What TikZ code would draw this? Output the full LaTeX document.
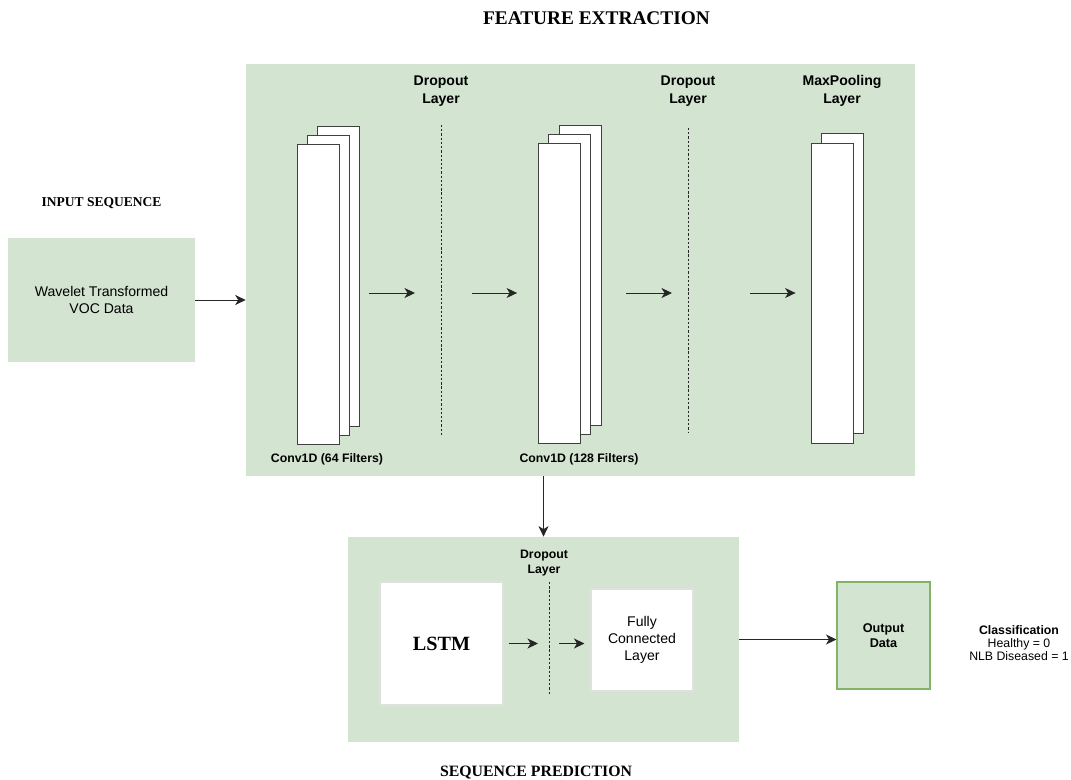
\documentclass[tikz,border=0pt]{standalone}
\usepackage{fontspec}
\setmainfont{Liberation Serif}
\setsansfont{Liberation Sans}
\usetikzlibrary{arrows.meta}
\definecolor{panelgreen}{HTML}{D3E4D1}
\definecolor{edgegreen}{HTML}{82B366}

\begin{document}
\begin{tikzpicture}[x=0.02cm, y=-0.02cm,
  panel/.style={fill=panelgreen, draw=none, inner sep=0pt},
  filter/.style={draw=black!75, fill=white, line width=0.5pt, minimum width=0.84cm, minimum height=6cm, inner sep=0pt},
  whitebox/.style={draw=black!12, fill=white, line width=0.6pt, inner sep=0pt},
  heading/.style={font=\rmfamily\bfseries\fontsize{#1}{#1}\selectfont},
  lbl/.style={font=\sffamily\bfseries\fontsize{#1}{10.2}\selectfont, align=center},
  txt/.style={font=\sffamily\fontsize{8}{9.6}\selectfont, align=center},
  flow/.style={-{Stealth[length=2.1mm,width=2mm,inset=0.6mm]}, line width=0.55pt, black!85},
  dropline/.style={dash pattern=on 1.3pt off 1.1pt, line width=0.5pt, black!85}
]
\useasboundingbox (0,0) rectangle (1071,780);

% headings
\node[heading=11] (fehead) at (596.5,18) {FEATURE EXTRACTION};
\node[heading=7.7] (inhead) at (101.5,203) {INPUT SEQUENCE};
\node[heading=9] (sphead) at (536,773) {SEQUENCE PREDICTION};

% panels
\node[panel, minimum width=3.74cm, minimum height=2.48cm, txt] (inp) at (101.5,300) {Wavelet Transformed\\VOC Data};
\node[panel, minimum width=13.38cm, minimum height=8.24cm] (feat) at (580.5,270) {};
\node[panel, minimum width=7.82cm, minimum height=4.1cm] (seq) at (543.5,639.5) {};

% conv1d 64
\node[filter] (c1c) at (338,276.5) {};
\node[filter] (c1b) at (328,285) {};
\node[filter] (c1a) at (318,294) {};
\node[lbl=7] (c1lbl) at (327,459) {Conv1D (64 Filters)};

% conv1d 128
\node[filter] (c2c) at (580,275) {};
\node[filter] (c2b) at (569.5,284) {};
\node[filter] (c2a) at (559.5,293) {};
\node[lbl=7] (c2lbl) at (579,459) {Conv1D (128 Filters)};

% maxpooling
\node[filter] (mpb) at (842.5,283.5) {};
\node[filter] (mpa) at (832,293) {};
\node[lbl=8] (mplbl) at (842,91) {MaxPooling\\Layer};

% dropout layers
\coordinate (d1t) at (441,125);
\coordinate (d1b) at (441,436);
\coordinate (d1m) at (441,293);
\draw[dropline] (d1t) -- (d1b);
\node[lbl=8] (d1lbl) at (441,91) {Dropout\\Layer};
\coordinate (d2t) at (688,128);
\coordinate (d2b) at (688,433);
\coordinate (d2m) at (688,293);
\draw[dropline] (d2t) -- (d2b);
\node[lbl=8] (d2lbl) at (688,91) {Dropout\\Layer};

\draw[flow, shorten <=0.6cm, shorten >=0.52cm] (c1a.east |- d1m) -- (d1m);
\draw[flow, shorten <=0.62cm, shorten >=0.42cm] (d1m) -- (c2a.west |- d1m);
\draw[flow, shorten <=0.5cm, shorten >=0.32cm] (c2c.east |- d2m) -- (d2m);
\draw[flow, shorten <=1.24cm, shorten >=0.3cm] (d2m) -- (mpa.west |- d2m);

% sequence prediction
\node[whitebox, minimum width=2.46cm, minimum height=2.46cm, heading=11.5] (lstm) at (441.5,643.5) {LSTM};
\node[whitebox, minimum width=2.04cm, minimum height=2.04cm, txt] (fc) at (642,640) {Fully\\Connected\\Layer};
\coordinate (d3t) at (549,582);
\coordinate (d3b) at (549,695);
\coordinate (d3m) at (549,643.5);
\draw[dropline] (d3t) -- (d3b);
\node[lbl=7, font=\sffamily\bfseries\fontsize{7}{9}\selectfont] (d3lbl) at (544,563) {Dropout\\Layer};
\draw[flow, shorten <=0.1cm, shorten >=0.22cm] (lstm.east) -- (d3m);
\draw[flow, shorten <=0.2cm, shorten >=0.12cm] (d3m) -- (fc.west |- d3m);

% output
\node[panel, draw=edgegreen, line width=0.6pt, minimum width=1.86cm, minimum height=2.14cm, lbl=7.2, font=\sffamily\bfseries\fontsize{7.2}{8.6}\selectfont] (out) at (883.5,635.5) {Output\\Data};
\node[txt, font=\sffamily\fontsize{7}{7.5}\selectfont] (cls) at (1019,643) {\textbf{Classification}\\Healthy = 0\\NLB Diseased = 1};

% connectors between stages
\draw[flow] (inp.east) -- (inp.east -| feat.west);
\draw[flow] (seq.north |- feat.south) -- (seq.north);
\draw[flow] (seq.east) -- (seq.east -| out.west);
\end{tikzpicture}
\end{document}
